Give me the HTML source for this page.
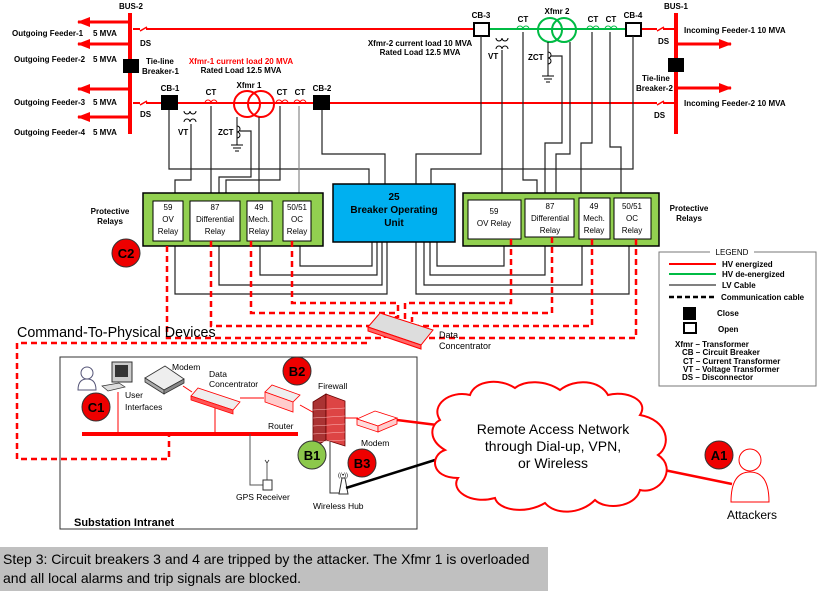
<!DOCTYPE html>
<html><head><meta charset="utf-8"><style>
html,body{margin:0;padding:0;background:#fff;width:817px;height:593px;overflow:hidden}
svg{display:block}
text{font-family:"Liberation Sans",Arial,sans-serif}
.b{font-weight:bold;font-size:8px}
.r{font-size:8px;font-weight:bold}
</style></head><body>
<svg width="817" height="593" viewBox="0 0 817 593" xmlns="http://www.w3.org/2000/svg">
<defs>
<marker id="ar" markerWidth="13" markerHeight="10" refX="12" refY="5" orient="auto" markerUnits="userSpaceOnUse"><path d="M0,0 L13,5 L0,10z" fill="#f00"/></marker>
</defs>
<!-- HV lines -->
<g stroke="#f00" stroke-width="2" fill="none">
<line x1="133" y1="29" x2="473" y2="29"/>
<line x1="640" y1="29" x2="676" y2="29"/>
<line x1="133" y1="103" x2="676" y2="103"/>
</g>
<line x1="489" y1="29" x2="626" y2="29" stroke="#0b4" stroke-width="2"/>
<g stroke="#fff" stroke-width="3"><line x1="140" y1="29" x2="146" y2="29"/><line x1="140" y1="103" x2="146" y2="103"/><line x1="657" y1="29" x2="663" y2="29"/><line x1="657" y1="103" x2="663" y2="103"/></g>
<g stroke="#f00" stroke-width="1.5"><line x1="140" y1="31" x2="147" y2="27"/><line x1="140" y1="105" x2="147" y2="101"/><line x1="657" y1="31" x2="664" y2="27"/><line x1="657" y1="105" x2="664" y2="101"/></g>
<line x1="130" y1="13" x2="130" y2="134" stroke="#f00" stroke-width="4"/>
<line x1="676" y1="13" x2="676" y2="134" stroke="#f00" stroke-width="4"/>
<g stroke="#f00" stroke-width="3" marker-end="url(#ar)">
<line x1="130" y1="22" x2="78" y2="22"/><line x1="130" y1="44" x2="78" y2="44"/>
<line x1="130" y1="89" x2="78" y2="89"/><line x1="130" y1="117" x2="78" y2="117"/>
<line x1="676" y1="44" x2="731" y2="44"/><line x1="676" y1="88" x2="731" y2="88"/>
</g>
<rect x="123" y="59" width="16" height="14" fill="#000"/>
<rect x="668" y="58" width="16" height="14" fill="#000"/>
<text class="b" x="131" y="9" text-anchor="middle">BUS-2</text>
<text class="b" x="676" y="9" text-anchor="middle">BUS-1</text>
<text class="b" x="12" y="36">Outgoing Feeder-1</text><text class="b" x="93" y="36">5 MVA</text>
<text class="b" x="14" y="62">Outgoing Feeder-2</text><text class="b" x="93" y="62">5 MVA</text>
<text class="b" x="14" y="105">Outgoing Feeder-3</text><text class="b" x="93" y="105">5 MVA</text>
<text class="b" x="14" y="135">Outgoing Feeder-4</text><text class="b" x="93" y="135">5 MVA</text>
<text class="b" x="140" y="46">DS</text><text class="b" x="140" y="117">DS</text>
<text class="b" x="146" y="64">Tie-line</text><text class="b" x="142" y="74">Breaker-1</text>
<text class="b" x="241" y="64" text-anchor="middle" fill="#f00">Xfmr-1 current load 20 MVA</text>
<text class="b" x="241" y="73" text-anchor="middle">Rated Load 12.5 MVA</text>
<text class="b" x="420" y="46" text-anchor="middle">Xfmr-2 current load 10 MVA</text>
<text class="b" x="420" y="55" text-anchor="middle">Rated Load 12.5 MVA</text>
<text class="b" x="684" y="33">Incoming Feeder-1 10 MVA</text>
<text class="b" x="684" y="106">Incoming Feeder-2 10 MVA</text>
<text class="b" x="658" y="44">DS</text><text class="b" x="654" y="118">DS</text>
<text class="b" x="642" y="81">Tie-line</text><text class="b" x="636" y="91">Breaker-2</text>
<rect x="161" y="95" width="17" height="15" fill="#000"/>
<rect x="313" y="95" width="17" height="15" fill="#000"/>
<rect x="474" y="23" width="15" height="13" fill="#fff" stroke="#000" stroke-width="2"/>
<rect x="626" y="23" width="15" height="13" fill="#fff" stroke="#000" stroke-width="2"/>
<text class="b" x="170" y="91" text-anchor="middle">CB-1</text>
<text class="b" x="322" y="91" text-anchor="middle">CB-2</text>
<text class="b" x="481" y="18" text-anchor="middle">CB-3</text>
<text class="b" x="633" y="18" text-anchor="middle">CB-4</text>
<g fill="none" stroke="#f00" stroke-width="1"><path d="M205,103a3,3 0 0 1 6,0a3,3 0 0 1 6,0"/><path d="M276,103a3,3 0 0 1 6,0a3,3 0 0 1 6,0"/><path d="M294,103a3,3 0 0 1 6,0a3,3 0 0 1 6,0"/></g>
<g fill="none" stroke="#0b4" stroke-width="1"><path d="M517,29a3,3 0 0 1 6,0a3,3 0 0 1 6,0"/><path d="M587,29a3,3 0 0 1 6,0a3,3 0 0 1 6,0"/><path d="M605,29a3,3 0 0 1 6,0a3,3 0 0 1 6,0"/></g>
<text class="b" x="211" y="95" text-anchor="middle">CT</text><text class="b" x="282" y="95" text-anchor="middle">CT</text><text class="b" x="300" y="95" text-anchor="middle">CT</text>
<text class="b" x="523" y="22" text-anchor="middle">CT</text><text class="b" x="593" y="22" text-anchor="middle">CT</text><text class="b" x="611" y="22" text-anchor="middle">CT</text>
<circle cx="247" cy="104" r="13" fill="none" stroke="#f00" stroke-width="2"/><circle cx="261" cy="104" r="13" fill="none" stroke="#f00" stroke-width="2"/>
<text class="b" x="249" y="88" text-anchor="middle">Xfmr 1</text>
<circle cx="550" cy="30" r="12" fill="none" stroke="#0b4" stroke-width="2"/><circle cx="564" cy="30" r="12" fill="none" stroke="#0b4" stroke-width="2"/>
<text class="b" x="557" y="14" text-anchor="middle">Xfmr 2</text>
<g fill="none" stroke="#000" stroke-width="1">
<path d="M184,111a3,3 0 0 0 6,0a3,3 0 0 0 6,0M184,122a3,3 0 0 1 6,0a3,3 0 0 1 6,0"/>
<path d="M496,38a3,3 0 0 0 6,0a3,3 0 0 0 6,0M496,49a3,3 0 0 1 6,0a3,3 0 0 1 6,0"/>
<path d="M237,117v28M231,145h12M233,148h8M235,151h4"/>
<path d="M237,126a3,3 0 0 1 0,6a3,3 0 0 1 0,6"/>
<path d="M548,42v34M542,76h12M544,79h8M546,82h4"/>
<path d="M548,52a3,3 0 0 1 0,6a3,3 0 0 1 0,6"/>
</g>
<text class="b" x="178" y="135">VT</text><text class="b" x="218" y="135">ZCT</text>
<text class="b" x="488" y="59">VT</text><text class="b" x="528" y="60">ZCT</text>
<g fill="none" stroke="#222" stroke-width="1.2">
<path d="M169,110V169H369V184"/>
<path d="M191,124V180H175V201"/>
<path d="M211,106V201"/>
<path d="M240,131H251V177H219V201"/>
<path d="M259,117V201"/>
<path d="M280,106V180H226V201"/>
<path d="M322,110V154H385V184"/>
<path d="M481,36V154H416V184"/>
<path d="M633,36V169H431V184"/>
<path d="M502,50V200"/>
<path d="M523,32V180H537V199"/>
<path d="M551,56H562V143H545V199"/>
<path d="M570,42V154H556V199"/>
<path d="M592,32V143H581V198"/>
<path d="M610,32V147H621V198"/>
<path d="M175,241V294H387V242"/>
<path d="M219,241V285H382V242"/>
<path d="M260,241V275H377V242"/>
<path d="M300,241V266H372V242"/>
<path d="M504,239V266H437V242"/>
<path d="M545,237V275H430V242"/>
<path d="M582,239V285H424V242"/>
<path d="M629,239V294H416V242"/>
</g>
<path d="M299,106V201" stroke="#888" stroke-width="1.2" fill="none"/>
<rect x="143" y="193" width="180" height="53" fill="#92d050" stroke="#000" stroke-width="1.5"/>
<rect x="463" y="193" width="196" height="53" fill="#92d050" stroke="#000" stroke-width="1.5"/>
<g fill="#fff" stroke="#000" stroke-width="1">
<rect x="153" y="201" width="30" height="40"/><rect x="190" y="201" width="50" height="40"/><rect x="247" y="201" width="25" height="40"/><rect x="283" y="201" width="28" height="40"/>
<rect x="468" y="200" width="53" height="39"/><rect x="525" y="199" width="49" height="38"/><rect x="579" y="198" width="31" height="41"/><rect x="614" y="198" width="37" height="41"/>
</g>
<g font-size="8" text-anchor="middle">
<text x="168" y="210">59</text><text x="168" y="222">OV</text><text x="168" y="234">Relay</text>
<text x="215" y="210">87</text><text x="215" y="222">Differential</text><text x="215" y="234">Relay</text>
<text x="259" y="210">49</text><text x="259" y="222">Mech.</text><text x="259" y="234">Relay</text>
<text x="297" y="210">50/51</text><text x="297" y="222">OC</text><text x="297" y="234">Relay</text>
<text x="494" y="214">59</text><text x="494" y="226">OV Relay</text>
<text x="550" y="209">87</text><text x="550" y="221">Differential</text><text x="550" y="233">Relay</text>
<text x="594" y="209">49</text><text x="594" y="221">Mech.</text><text x="594" y="233">Relay</text>
<text x="632" y="209">50/51</text><text x="632" y="221">OC</text><text x="632" y="233">Relay</text>
</g>
<rect x="333" y="184" width="122" height="58" fill="#00b0f0" stroke="#000" stroke-width="1.5"/>
<g font-size="10" font-weight="bold" text-anchor="middle"><text x="394" y="200">25</text><text x="394" y="213">Breaker Operating</text><text x="394" y="226">Unit</text></g>
<text class="b" x="110" y="214" text-anchor="middle">Protective</text><text class="b" x="110" y="224" text-anchor="middle">Relays</text>
<text class="b" x="689" y="211" text-anchor="middle">Protective</text><text class="b" x="689" y="221" text-anchor="middle">Relays</text>
<g fill="none" stroke="#f00" stroke-width="2.5" stroke-dasharray="6,4">
<path d="M167,246V338H385V318"/>
<path d="M211,241V326H392V318"/>
<path d="M251,241V313H396V318"/>
<path d="M292,241V303H398V318"/>
<path d="M511,239V303H405V320"/>
<path d="M552,237V313H412V322"/>
<path d="M592,239V326H418V326"/>
<path d="M636,239V338H425V328"/>
<path d="M367,343H17V459H169V436"/>
</g>
<g stroke="#f00" stroke-width="1" fill="#ddd">
<path d="M368,327L380,313L433,330L421,345Z"/>
<path d="M368,327L421,345L421,349L368,331Z" fill="#f66"/>
</g>
<text x="439" y="338" font-size="9">Data</text><text x="439" y="349" font-size="9">Concentrator</text>
<text x="17" y="337" font-size="14.3">Command-To-Physical Devices</text>
<rect x="60" y="357" width="357" height="172" fill="none" stroke="#333" stroke-width="1"/>
<text x="74" y="526" font-size="11" font-weight="bold">Substation Intranet</text>
<line x1="82" y1="434" x2="298" y2="434" stroke="#f00" stroke-width="4"/>
<g stroke="#f00" stroke-width="1"><line x1="118" y1="392" x2="118" y2="434"/><line x1="215" y1="405" x2="215" y2="434"/><line x1="240" y1="398" x2="264" y2="398"/><line x1="300" y1="405" x2="318" y2="415"/><line x1="345" y1="418" x2="358" y2="418"/><line x1="183" y1="386" x2="192" y2="392"/></g>
<path d="M250,434V485H263" fill="none" stroke="#555" stroke-width="1"/>
<path d="M330,440V493H340" fill="none" stroke="#333" stroke-width="1"/>
<g fill="#fff" stroke="#557" stroke-width="1"><circle cx="87" cy="373" r="6"/><path d="M78,390q0,-11 9,-11q9,0 9,11z"/></g>
<rect x="112" y="362" width="20" height="20" fill="#ccc" stroke="#333"/><rect x="115" y="365" width="13" height="12" fill="#333"/>
<path d="M102,386l17,-3l6,4l-17,4z" fill="#ddd" stroke="#333" stroke-width=".7"/>
<path d="M145,378L165,366L184,379L164,390Z" fill="#eee" stroke="#333" stroke-width=".8"/>
<path d="M145,378L164,390V394L145,382Z" fill="#aaa" stroke="#333" stroke-width=".8"/><path d="M164,390L184,379V383L164,394Z" fill="#888" stroke="#333" stroke-width=".8"/>
<text x="172" y="370" font-size="8.5">Modem</text>
<text x="209" y="377" font-size="8.5">Data</text><text x="209" y="387" font-size="8.5">Concentrator</text>
<text x="125" y="398" font-size="8.5">User</text><text x="125" y="410" font-size="8.5">Interfaces</text>
<path d="M191,396L198,388L240,402L233,410Z" fill="#eee" stroke="#f00" stroke-width=".8"/>
<path d="M191,396L233,410V414L191,400Z" fill="#f55" stroke="#f00" stroke-width=".8"/>
<path d="M265,392L272,385L300,395L293,402Z" fill="#eee" stroke="#f00" stroke-width=".8"/>
<path d="M265,392L293,402V412L265,402Z" fill="#fcc" stroke="#f00" stroke-width=".8"/>
<text x="268" y="429" font-size="8.5">Router</text>
<path d="M313,402L326,394V440L313,448Z" fill="#a33" stroke="#600" stroke-width=".8"/>
<path d="M326,394L345,401V446L326,440Z" fill="#d44" stroke="#600" stroke-width=".8"/>
<g stroke="#fbb" stroke-width=".5"><path d="M313,410L345,408M313,418L345,416M313,426L345,424M313,434L345,432M313,442L345,440"/></g>
<text x="318" y="389" font-size="8.5">Firewall</text>
<path d="M357,419L375,411L397,418L378,426Z" fill="#fff" stroke="#f00" stroke-width=".8"/>
<path d="M357,419L378,426V432L357,425Z" fill="#fdd" stroke="#f00" stroke-width=".8"/><path d="M378,426L397,418V424L378,432Z" fill="#fcc" stroke="#f00" stroke-width=".8"/>
<text x="361" y="446" font-size="8.5">Modem</text>
<path d="M339,494L342,478H345L348,494Z" fill="#fff" stroke="#333"/>
<text x="343" y="477" font-size="6" text-anchor="middle">((•))</text>
<text x="313" y="509" font-size="8.5">Wireless Hub</text>
<rect x="263" y="480" width="9" height="10" fill="#fff" stroke="#333"/>
<path d="M267,480V462M265,460l2,3l2,-3" fill="none" stroke="#333" stroke-width=".8"/>
<text x="236" y="500" font-size="8.5">GPS Receiver</text>
<line x1="397" y1="420" x2="437" y2="425" stroke="#f00" stroke-width="2.5"/>
<line x1="346" y1="488" x2="435" y2="460" stroke="#000" stroke-width="2.5"/>
<line x1="664" y1="470" x2="732" y2="484" stroke="#f00" stroke-width="2.5"/>
<path d="M440,420 C430,405 450,390 470,395 C475,380 500,378 515,388 C525,380 545,380 560,390 C575,378 600,380 608,395 C625,390 650,400 640,415 C668,420 672,445 658,455 C678,468 660,495 640,490 C635,508 605,510 595,500 C580,515 555,515 545,503 C525,515 498,510 495,498 C470,505 450,490 458,478 C430,478 430,455 445,450 C428,440 430,425 440,420Z" fill="#fff" stroke="#f00" stroke-width="2"/>
<g font-size="14" text-anchor="middle"><text x="553" y="434">Remote Access Network</text><text x="553" y="451">through Dial-up, VPN,</text><text x="553" y="468">or Wireless</text></g>
<g fill="#fff" stroke="#f00" stroke-width="1"><circle cx="750" cy="460" r="11"/><path d="M731,502q0,-30 19,-30q19,0 19,30z"/></g>
<text x="752" y="519" font-size="12" text-anchor="middle">Attackers</text>
<g stroke="#333" stroke-width="1">
<circle cx="126" cy="253" r="14" fill="#e00"/><circle cx="96" cy="407" r="14" fill="#e00"/>
<circle cx="297" cy="371" r="14" fill="#e00"/><circle cx="312" cy="455" r="14" fill="#8cc84b"/>
<circle cx="362" cy="463" r="14" fill="#e00"/><circle cx="719" cy="455" r="14" fill="#e00"/>
</g>
<g font-size="13" font-weight="bold" text-anchor="middle">
<text x="126" y="258">C2</text><text x="96" y="412">C1</text><text x="297" y="376">B2</text><text x="312" y="460">B1</text><text x="362" y="468">B3</text><text x="719" y="460">A1</text>
</g>
<rect x="659" y="252" width="157" height="134" fill="#fff" stroke="#777" stroke-width="1"/>
<rect x="710" y="247" width="44" height="9" fill="#fff"/>
<text x="732" y="255" font-size="8" text-anchor="middle">LEGEND</text>
<line x1="669" y1="264" x2="716" y2="264" stroke="#f00" stroke-width="2"/>
<line x1="669" y1="274" x2="716" y2="274" stroke="#0b4" stroke-width="2"/>
<line x1="669" y1="285" x2="716" y2="285" stroke="#000" stroke-width="1"/>
<line x1="669" y1="297" x2="716" y2="297" stroke="#000" stroke-width="2.5" stroke-dasharray="5,3"/>
<g class="r"><text x="722" y="267">HV energized</text><text x="722" y="277">HV de-energized</text><text x="722" y="288">LV Cable</text><text x="721" y="300">Communication cable</text>
<text x="717" y="316">Close</text><text x="718" y="332">Open</text>
<text x="675" y="347">Xfmr – Transformer</text><text x="682" y="355">CB – Circuit Breaker</text><text x="683" y="364">CT – Current Transformer</text><text x="683" y="372">VT – Voltage Transformer</text><text x="682" y="380">DS – Disconnector</text></g>
<rect x="683" y="307" width="13" height="13" fill="#000"/>
<rect x="684" y="323" width="12" height="10" fill="#fff" stroke="#000" stroke-width="2"/>
<rect x="0" y="547" width="548" height="44" fill="#c0c0c0"/>
<g font-size="14"><text x="3" y="564">Step 3: Circuit breakers 3 and 4 are tripped by the attacker. The Xfmr 1 is overloaded</text><text x="3" y="583">and all local alarms and trip signals are blocked.</text></g>
</svg>
</body></html>
